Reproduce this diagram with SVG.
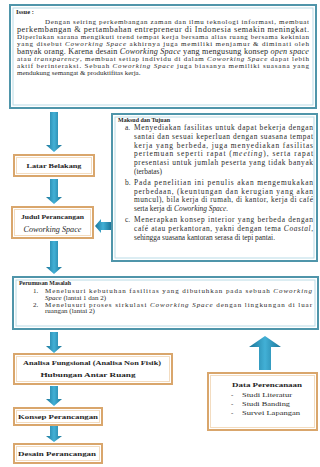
<svg xmlns="http://www.w3.org/2000/svg" width="320" height="467" viewBox="0 0 320 467">
<style>
.tbox{fill:#fff;stroke:#4f95aa;stroke-width:2}
.tin{fill:none;stroke:#b9dbe6;stroke-width:1}
.obox{fill:#fff;stroke:#d9a66c;stroke-width:2}
.oin{fill:none;stroke:#f3dcc0;stroke-width:1}
.arr{fill:url(#ag)}
.t{font-family:"Liberation Serif","Times New Roman",serif;fill:#2a2a2a;font-size:7px}
.big{font-size:8.2px}
.b{font-weight:bold;fill:#1e1e1e}
.i{font-style:italic}
.m{font-size:7.4px}
.c{text-anchor:middle}
</style>
<defs>
<linearGradient id="ag" x1="0" y1="0" x2="1" y2="0">
<stop offset="0" stop-color="#1c7699"/>
<stop offset="0.5" stop-color="#42b0d6"/>
<stop offset="1" stop-color="#1c7699"/>
</linearGradient>
</defs>
<rect width="320" height="467" fill="#fff"/>

<g id="connectors">
<polygon class="arr" points="50,112 58,112 58,145 62,145 54,152 46,145 50,145"/>
<polygon class="arr" points="50,179 58,179 58,197 62,197 54,204 46,197 50,197"/>
<polygon class="arr" points="50,241 58,241 58,267 62,267 54,274 46,267 50,267"/>
<polygon class="arr" points="50,332 58,332 58,346 62,346 54,353 46,346 50,346"/>
<polygon class="arr" points="50,386 58,386 58,399 62,399 54,406 46,399 50,399"/>
<polygon class="arr" points="50,426 58,426 58,436 62,436 54,442 46,436 50,436"/>
<polygon class="arr" points="111,222 101,222 101,219 95,226 101,233 101,230 111,230"/>
<polygon class="arr" points="259,370 271,370 271,347 281,347 265,336 249,347 259,347"/>
</g>

<g id="issue">
<rect class="tbox" x="10" y="5" width="306" height="103"/>
<rect class="tin" x="13" y="8" width="300" height="97"/>
<text class="t b" x="16" y="14" style="font-size:6.5px">Issue :</text>
<text class="t" x="45" y="24" textLength="264" lengthAdjust="spacing">Dengan seiring perkembangan zaman dan ilmu teknologi informasi, membuat</text>
<text class="t big" x="17" y="32" textLength="292" lengthAdjust="spacing">perkembangan &amp; pertambahan entrepreneur di Indonesia semakin meningkat.</text>
<text class="t" x="17" y="39" textLength="292" lengthAdjust="spacing">Diperlukan sarana mengikuti trend tempat kerja bersama alias ruang bersama kekinian</text>
<text class="t" x="17" y="46" textLength="292" lengthAdjust="spacing">yang disebut <tspan class="i">Coworking Space</tspan> akhirnya juga memiliki menjamur &amp; diminati oleh</text>
<text class="t big" x="17" y="53.5" textLength="292" lengthAdjust="spacing">banyak orang. Karena desain <tspan class="i">Coworking Space</tspan> yang mengusung konsep <tspan class="i">open space</tspan></text>
<text class="t" x="17" y="60.5" textLength="292" lengthAdjust="spacing">atau <tspan class="i">transparency</tspan>, membuat setiap individu di dalam <tspan class="i">Coworking Space</tspan> dapat lebih</text>
<text class="t" x="17" y="67.5" textLength="292" lengthAdjust="spacing">aktif berinteraksi. Sebuah <tspan class="i">Coworking Space</tspan> juga biasanya memiliki suasana yang</text>
<text class="t" x="17" y="74.5">mendukung semangat &amp; produktifitas kerja.</text>
</g>

<g id="maksud">
<rect class="tbox" x="112" y="114" width="205" height="147"/>
<rect class="tin" x="115" y="117" width="199" height="141"/>
<text class="t b" x="118" y="122" textLength="52" lengthAdjust="spacingAndGlyphs">Maksud dan Tujuan</text>
<text class="t m" x="125" y="130">a.</text>
<text class="t m" x="134" y="130" textLength="179" lengthAdjust="spacing">Menyediakan fasilitas untuk dapat bekerja dengan</text>
<text class="t m" x="134" y="138.8" textLength="179" lengthAdjust="spacing">santai dan sesuai keperluan dengan suasana tempat</text>
<text class="t m" x="134" y="147.6" textLength="179" lengthAdjust="spacing">kerja yang berbeda, juga menyediakan fasilitas</text>
<text class="t m" x="134" y="156.4" textLength="179" lengthAdjust="spacing">pertemuan seperti rapat (<tspan class="i">meeting</tspan>), serta rapat</text>
<text class="t m" x="134" y="165.2" textLength="179" lengthAdjust="spacing">presentasi untuk jumlah peserta yang tidak banyak</text>
<text class="t m" x="134" y="174">(terbatas)</text>
<text class="t m" x="125" y="184.8">b.</text>
<text class="t m" x="134" y="184.8" textLength="179" lengthAdjust="spacing">Pada penelitian ini penulis akan mengemukakan</text>
<text class="t m" x="134" y="193.6" textLength="179" lengthAdjust="spacing">perbedaan, (keuntungan dan kerugian yang akan</text>
<text class="t m" x="134" y="202.4" textLength="179" lengthAdjust="spacing">muncul), bila kerja di rumah, di kantor, kerja di café</text>
<text class="t m" x="134" y="211.2">serta kerja di <tspan class="i">Coworking Space.</tspan></text>
<text class="t m" x="125" y="222">c.</text>
<text class="t m" x="134" y="222" textLength="179" lengthAdjust="spacing">Menerapkan konsep interior yang berbeda dengan</text>
<text class="t m" x="134" y="230.8" textLength="179" lengthAdjust="spacing">café atau perkantoran, yakni dengan tema <tspan class="i">Coastal</tspan>,</text>
<text class="t m" x="134" y="239.6">sehingga suasana kantoran serasa di tepi pantai.</text>
</g>

<g id="latar">
<rect class="obox" x="14" y="155" width="80" height="21"/>
<rect class="oin" x="16.5" y="157.5" width="75" height="16"/>
<text class="t b c" x="54" y="168" textLength="55" lengthAdjust="spacingAndGlyphs">Latar Belakang</text>
</g>

<g id="judul">
<rect class="obox" x="12" y="207" width="81" height="31"/>
<rect class="oin" x="14.5" y="209.5" width="76" height="26"/>
<text class="t b c" x="52.5" y="219" textLength="63" lengthAdjust="spacingAndGlyphs">Judul Perancangan</text>
<text class="t i c" x="52.5" y="231.5" textLength="58" lengthAdjust="spacingAndGlyphs" style="font-size:7.4px">Coworking Space</text>
</g>

<g id="perumusan">
<rect class="tbox" x="13" y="277" width="305" height="52"/>
<rect class="tin" x="16" y="280" width="299" height="46"/>
<text class="t b" x="19" y="285" textLength="52" lengthAdjust="spacingAndGlyphs" style="font-size:6.5px">Perumusan Masalah</text>
<text class="t" x="33" y="293">1.</text>
<text class="t" x="45" y="293" textLength="267" lengthAdjust="spacing">Menelusuri kebutuhan fasilitas yang dibutuhkan pada sebuah <tspan class="i">Coworking</tspan></text>
<text class="t" x="45" y="299.5"><tspan class="i">Space</tspan> (lantai 1 dan 2)</text>
<text class="t" x="33" y="306.5">2.</text>
<text class="t" x="45" y="306.5" textLength="267" lengthAdjust="spacing">Menelusuri proses sirkulasi <tspan class="i">Coworking Space</tspan> dengan lingkungan di luar</text>
<text class="t" x="45" y="313">ruangan (lantai 2)</text>
</g>

<g id="analisa">
<rect class="obox" x="14" y="354" width="158" height="30"/>
<rect class="oin" x="16.5" y="356.5" width="153" height="25"/>
<text class="t b c" x="92" y="364.5" textLength="138" lengthAdjust="spacingAndGlyphs">Analisa Fungsional (Analisa Non Fisik)</text>
<text class="t b c" x="88" y="376.5" textLength="95" lengthAdjust="spacingAndGlyphs">Hubungan Antar Ruang</text>
</g>

<g id="konsep">
<rect class="obox" x="14" y="408" width="88" height="17"/>
<rect class="oin" x="16.5" y="410.5" width="83" height="12"/>
<text class="t b" x="18" y="419" textLength="80" lengthAdjust="spacingAndGlyphs">Konsep Perancangan</text>
</g>

<g id="desain">
<rect class="obox" x="14" y="444" width="88" height="19"/>
<rect class="oin" x="16.5" y="446.5" width="83" height="14"/>
<text class="t b" x="18" y="456" textLength="78" lengthAdjust="spacingAndGlyphs">Desain Perancangan</text>
</g>

<g id="data">
<rect class="obox" x="208" y="373" width="109" height="57"/>
<rect class="oin" x="210.5" y="375.5" width="104" height="52"/>
<text class="t b c" x="267" y="387" textLength="70" lengthAdjust="spacingAndGlyphs">Data Perencanaan</text>
<text class="t" x="231" y="396.5">-</text>
<text class="t" x="242" y="396.5" textLength="50" lengthAdjust="spacingAndGlyphs">Studi Literatur</text>
<text class="t" x="231" y="405.5">-</text>
<text class="t" x="242" y="405.5" textLength="48" lengthAdjust="spacingAndGlyphs">Studi Banding</text>
<text class="t" x="231" y="414.5">-</text>
<text class="t" x="242" y="414.5" textLength="58" lengthAdjust="spacingAndGlyphs">Survei Lapangan</text>
</g>
</svg>
